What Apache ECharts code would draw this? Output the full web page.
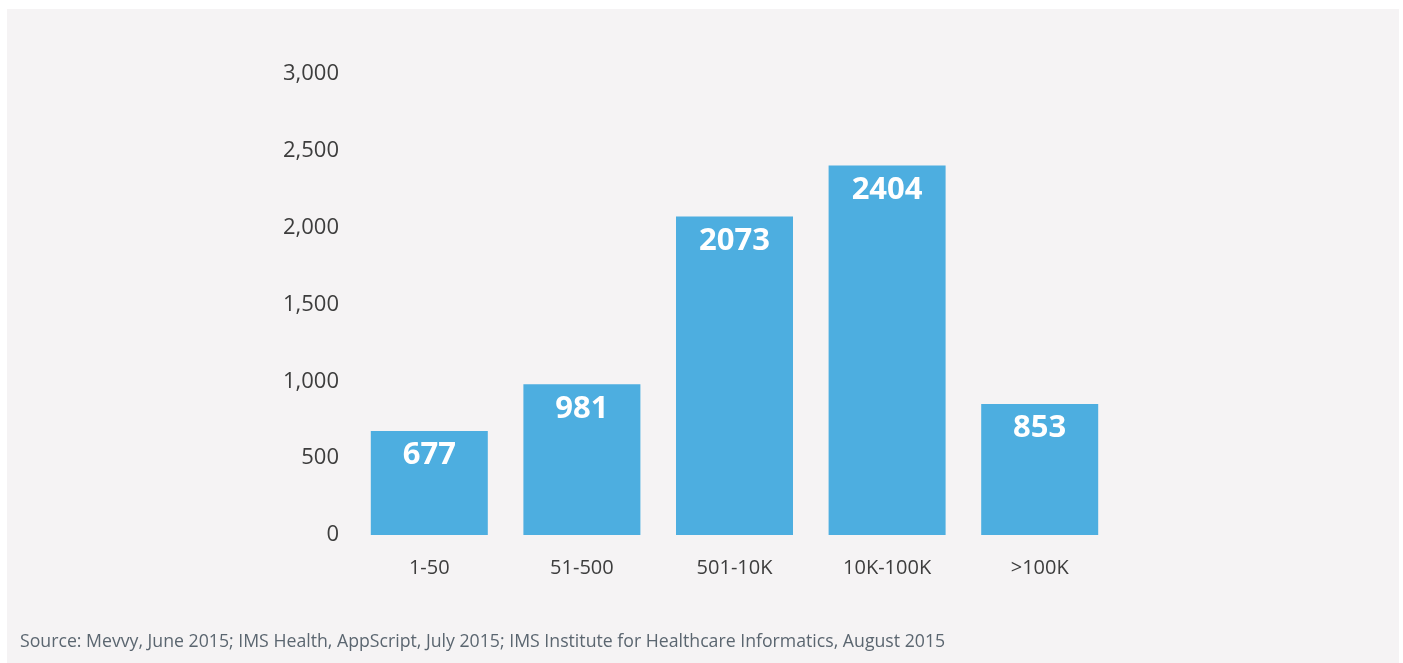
<!DOCTYPE html>
<html>
<head>
<meta charset="utf-8">
<script src="https://cdn.jsdelivr.net/npm/echarts@6/dist/echarts.min.js"></script>
<style>
  html, body { margin: 0; padding: 0; background: #ffffff; }
  #chart { width: 1403px; height: 663px; }
</style>
</head>
<body>
<div id="chart"></div>
<script>
// Number of apps by download bracket
const categories = ['1-50', '51-500', '501-10K', '10K-100K', '>100K'];
const appCounts = [677, 981, 2073, 2404, 853];
const yTicks = { min: 0, max: 3000, interval: 500 };
const sourceNote = 'Source: Mevvy, June 2015; IMS Health, AppScript, July 2015; IMS Institute for Healthcare Informatics, August 2015';

const chart = echarts.init(document.getElementById('chart'));
const font = '"Open Sans", "Noto Sans", sans-serif';

chart.setOption({
  backgroundColor: '#ffffff',
  animation: false,
  graphic: [
    {
      type: 'rect',
      z: -10,
      shape: { x: 7, y: 9, width: 1392, height: 654 },
      style: { fill: '#f5f3f4' }
    },
    {
      type: 'text',
      left: 20,
      top: 633,
      style: {
        text: sourceNote,
        fill: '#5b6670',
        font: '17.7px ' + font
      }
    }
  ],
  grid: { left: 353, right: 287, top: 74, bottom: 128 },
  xAxis: {
    type: 'category',
    data: categories,
    axisLine: { show: false },
    axisTick: { show: false },
    axisLabel: {
      color: '#3d3d3d',
      fontSize: 20,
      fontFamily: font,
      margin: 23
    }
  },
  yAxis: {
    type: 'value',
    min: yTicks.min,
    max: yTicks.max,
    interval: yTicks.interval,
    splitLine: { show: false },
    axisLine: { show: false },
    axisTick: { show: false },
    axisLabel: {
      color: '#3d3d3d',
      fontSize: 22,
      fontFamily: font,
      margin: 14,
      formatter: v => v.toLocaleString('en-US')
    }
  },
  series: [{
    type: 'bar',
    data: appCounts,
    barWidth: 117,
    itemStyle: { color: '#4daee0' },
    label: {
      show: true,
      position: 'insideTop',
      distance: 9,
      color: '#ffffff',
      fontSize: 31,
      fontWeight: 'bold',
      fontFamily: font
    }
  }]
});
</script>
</body>
</html>
